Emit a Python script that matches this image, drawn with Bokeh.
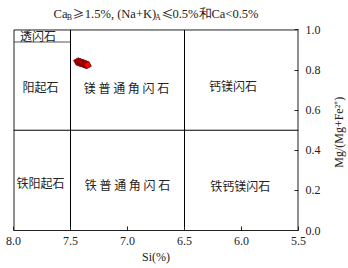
import math
from bokeh.plotting import figure
from bokeh.models import Range1d, FixedTicker, PrintfTickFormatter, ColumnDataSource, Label
from bokeh.core.properties import value
from bokeh.embed import file_html
from bokeh.resources import INLINE

# ---- data ----
si = [7.44, 7.43, 7.42, 7.41, 7.40, 7.39, 7.38, 7.37, 7.36, 7.35]
mg = [0.843, 0.840, 0.840, 0.836, 0.835, 0.834, 0.830, 0.829, 0.826, 0.825]

x_ticks = [8.0, 7.5, 7.0, 6.5, 6.0, 5.5]
y_ticks = [0.0, 0.2, 0.4, 0.6, 0.8, 1.0]

si_bounds = [7.5, 6.5]          # vertical field boundaries
mg_bound = 0.5                  # horizontal field boundary
trem_si = [8.0, 7.5]            # tremolite field boundary span
trem_mg = 0.94

region_names = ["透闪石", "阳起石", "镁 普 通 角 闪 石", "钙镁闪石",
                "铁阳起石", "铁 普 通 角 闪 石", "铁钙镁闪石"]
region_x = [7.785, 7.763, 7.009, 6.075, 7.763, 7.0, 6.01]
region_y = [0.974, 0.72, 0.713, 0.723, 0.241, 0.229, 0.224]

title_parts = ["Ca", "B", "≥", "1.5%, (Na+K)", "A", "≤", "0.5%和Ca<0.5%"]
y_title = "Mg/(Mg+Fe²⁺)"
x_title = "Si(%)"

X0, X1 = 8.0, 5.5
Y0, Y1, YTOP = 0.0, 1.0, 1.147

# ---- figure ----
p = figure(width=348, height=268, x_range=Range1d(X0, X1), y_range=Range1d(Y0, YTOP),
           output_backend="svg", toolbar_location=None, y_axis_location="right",
           min_border_left=13, min_border_right=50, min_border_top=0, min_border_bottom=38)
p.grid.visible = False
p.outline_line_color = None
p.background_fill_color = "white"
p.border_fill_color = "white"

FONT = "Liberation Serif"
CJK = "Noto Sans CJK SC"
INK = "#222222"

def px2x(px):
    return X0 - (px - 13) / 114.0

xa = p.xaxis[0]
xa.ticker = FixedTicker(ticks=x_ticks)
xa.formatter = PrintfTickFormatter(format="%.1f")
xa.major_tick_in = 4
xa.major_tick_out = 0
xa.minor_tick_line_color = None
xa.major_label_standoff = 6
xa.axis_label = x_title
xa.axis_label_standoff = 2

ya = p.yaxis[0]
ya.ticker = FixedTicker(ticks=y_ticks)
ya.formatter = PrintfTickFormatter(format="%.1f")
ya.major_tick_in = 4
ya.major_tick_out = 0
ya.minor_tick_line_color = None
ya.major_label_standoff = 7
ya.axis_line_color = None

for ax in [xa, ya]:
    ax.major_label_text_font = FONT
    ax.major_label_text_font_size = "12px"
    ax.major_label_text_color = INK
    ax.axis_label_text_font = FONT
    ax.axis_label_text_font_size = "12px"
    ax.axis_label_text_font_style = "normal"
    ax.axis_label_text_color = INK
    ax.major_tick_line_color = INK
xa.axis_line_color = INK

# y-axis title, reading bottom-to-top, placed in the right side panel
p.add_layout(Label(x=px2x(338), y=0.49, text=y_title, angle=math.pi / 2,
                   text_font=FONT, text_font_size="12px", text_color=INK,
                   text_align="center", text_baseline="middle"), "right")

# frame box (top, left, right edges)
p.segment(x0=[X0, X0, X1], x1=[X1, X0, X1], y0=[Y1, Y0, Y0], y1=[Y1, Y1, Y1],
          line_color=INK, line_width=[1, 2, 2])

# field boundaries
p.segment(x0=si_bounds, x1=si_bounds, y0=[Y0] * len(si_bounds), y1=[Y1] * len(si_bounds),
          line_color="black", line_width=1)
p.segment(x0=[X0], x1=[X1], y0=[mg_bound], y1=[mg_bound], line_color="black", line_width=1)
p.segment(x0=[trem_si[0]], x1=[trem_si[1]], y0=[trem_mg], y1=[trem_mg],
          line_color="#555555", line_width=1.2)

# region names
src = ColumnDataSource(dict(x=region_x, y=region_y, t=region_names))
p.text(x="x", y="y", text="t", source=src, text_font=value(CJK),
       text_font_size="12px", text_color=INK, text_align="center",
       text_baseline="middle")

# data points
p.scatter(si, mg, marker="square", size=5.5, fill_color="#ff0000",
          line_color="#660000", line_width=0.8, angle=0.5)

# title pieces (in the band above the 1.0 line), centred on their reference spans
title_px = [60, 69, 78, 120, 157.5, 167, 215]
title_y = [1.08, 1.06, 1.08, 1.08, 1.06, 1.08, 1.08]
title_fs = ["12.5px", "8px", "12px", "12.5px", "8px", "12px", "12.5px"]
title_font = [FONT, FONT, CJK, FONT, FONT, CJK, FONT]
tsrc = ColumnDataSource(dict(x=[px2x(v) for v in title_px], y=title_y,
                             t=title_parts, fs=title_fs, f=title_font))
p.text(x="x", y="y", text="t", source=tsrc, text_font="f",
       text_font_size="fs", text_color=INK, text_align="center", text_baseline="middle")

open("out.html", "w").write(file_html(p, INLINE))
